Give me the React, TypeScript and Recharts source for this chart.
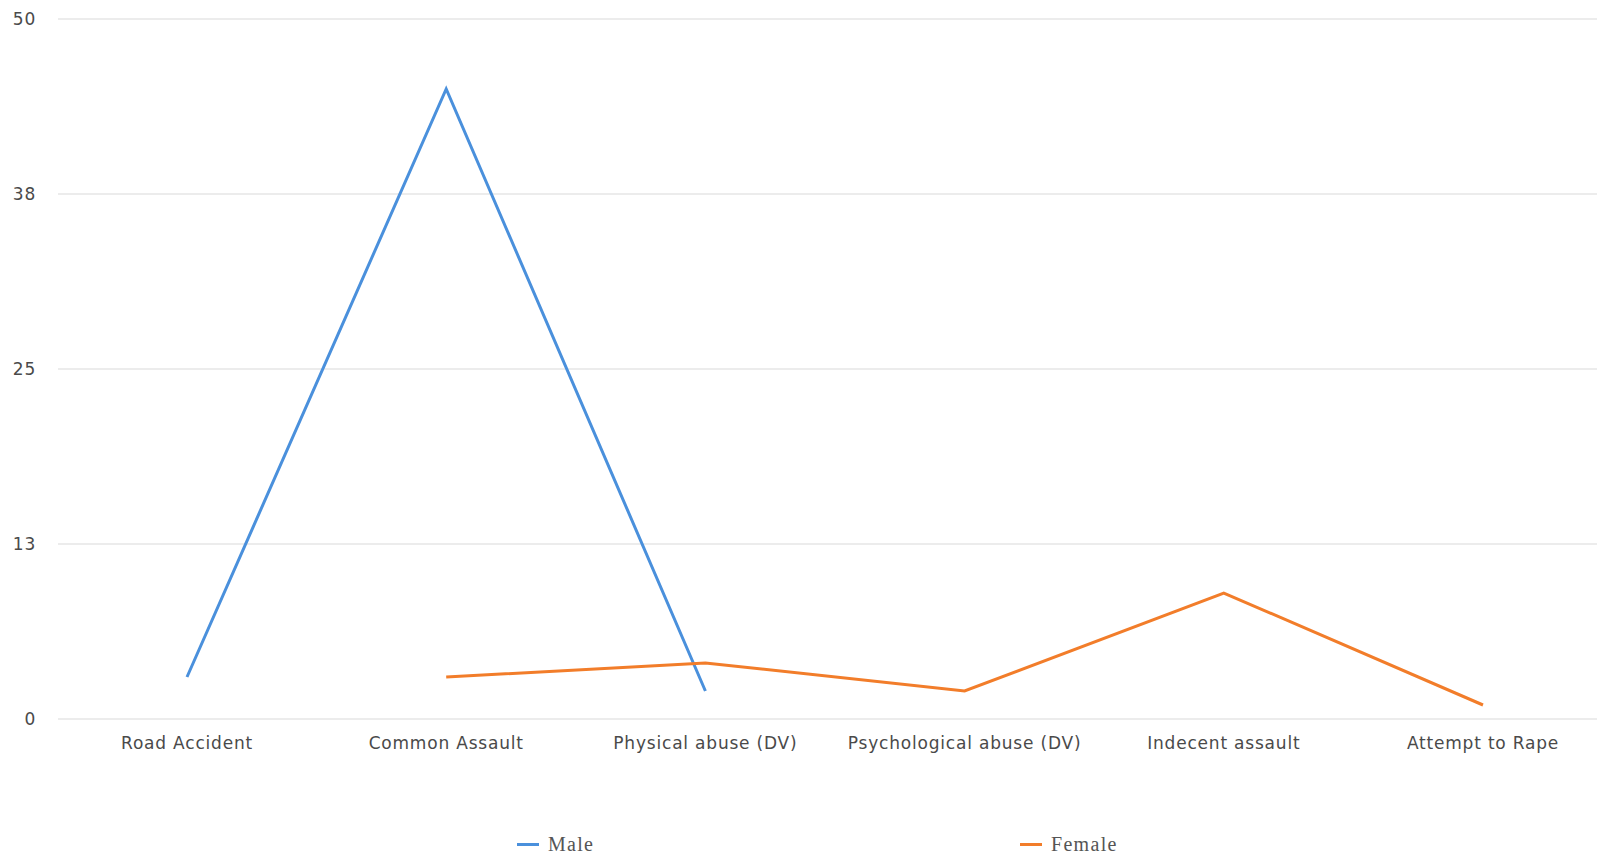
import React from 'react';
import { LineChart, Line, XAxis, YAxis, CartesianGrid, Legend } from 'recharts';

const categories = [
  'Road Accident',
  'Common Assault',
  'Physical abuse (DV)',
  'Psychological abuse (DV)',
  'Indecent assault',
  'Attempt to Rape',
];
const maleValues = [3, 45, 2, null, null, null];
const femaleValues = [null, 3, 4, 2, 9, 1];
const yTicks = [0, 12.5, 25, 37.5, 50];

const MALE_COLOR = '#4a90dc';
const FEMALE_COLOR = '#f27d2a';

const chartData = categories.map((name, i) => ({
  name,
  Male: maleValues[i],
  Female: femaleValues[i],
}));

const tickStyle = {
  fontFamily: 'DejaVu Sans, sans-serif',
  fontSize: 17,
  letterSpacing: 0.8,
  fill: '#4a4a4a',
};

// legend entries sit at fixed spots along the bottom
function renderLegend() {
  const items = [
    { label: 'Male', color: MALE_COLOR, left: 517 },
    { label: 'Female', color: FEMALE_COLOR, left: 1020 },
  ];
  return (
    <div style={{ position: 'relative', width: 1597, height: 110 }}>
      {items.map((it) => (
        <div
          key={it.label}
          style={{
            position: 'absolute',
            left: it.left,
            top: 85,
            display: 'flex',
            alignItems: 'center',
          }}
        >
          <span
            style={{
              display: 'inline-block',
              width: 22,
              height: 3,
              background: it.color,
              marginRight: 9,
            }}
          />
          <span
            style={{
              fontFamily: 'Liberation Serif, serif',
              fontSize: 20,
              lineHeight: '22px',
              letterSpacing: 1.3,
              color: '#555',
            }}
          >
            {it.label}
          </span>
        </div>
      ))}
    </div>
  );
}

export default function App() {
  return (
    <div style={{ width: 1597, height: 858, overflow: 'hidden', background: '#fff' }}>
      <style>{'body{margin:0;overflow:hidden}'}</style>
      <LineChart
        width={1612}
        height={858}
        data={chartData}
        margin={{ top: 19, right: 0, bottom: 0, left: 0 }}
      >
        <CartesianGrid vertical={false} stroke="#e6e6e6" strokeWidth={1.5} />
        <XAxis
          dataKey="name"
          axisLine={false}
          tickLine={false}
          height={29}
          tick={tickStyle}
          tickMargin={12}
          interval={0}
          padding={{ left: 129, right: 129 }}
        />
        <YAxis
          domain={[0, 50]}
          ticks={yTicks}
          width={58}
          axisLine={false}
          tickLine={false}
          tickSize={0}
          tickMargin={22}
          tick={tickStyle}
          tickFormatter={(v: number) => String(Math.round(v))}
        />
        <Legend
          verticalAlign="bottom"
          height={110}
          content={renderLegend}
          wrapperStyle={{ left: 0, width: 1597 }}
        />
        <Line
          type="linear"
          dataKey="Male"
          stroke={MALE_COLOR}
          strokeWidth={3}
          dot={false}
          isAnimationActive={false}
        />
        <Line
          type="linear"
          dataKey="Female"
          stroke={FEMALE_COLOR}
          strokeWidth={3}
          dot={false}
          isAnimationActive={false}
        />
      </LineChart>
    </div>
  );
}
